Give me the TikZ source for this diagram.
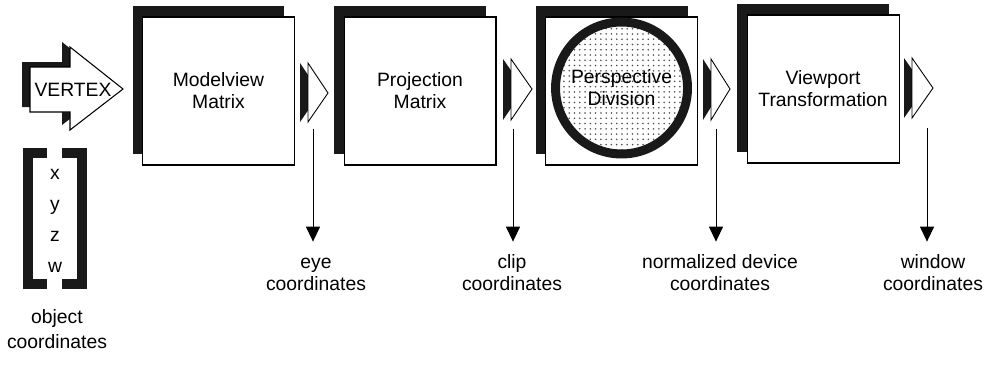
\documentclass[tikz,border=0pt]{standalone}
\usepackage{fontspec}
\setmainfont{Liberation Sans}
\usetikzlibrary{arrows.meta,positioning,shadows,patterns}

\begin{document}
\begin{tikzpicture}[
    x=0.02cm, y=-0.02cm,
    node distance=0.97cm,
    stage/.style={rectangle, draw=black, line width=0.6pt, fill=white, minimum width=3.04cm, minimum height=2.96cm, align=center, inner sep=0pt, font=\fontsize{11}{12.5}\selectfont, general shadow={fill=black!90, shadow xshift=-0.2cm, shadow yshift=0.22cm}},
    vtxarrow/.style={draw=black, line width=0.6pt, fill=white, line join=miter, general shadow={fill=black!90, shadow xshift=-0.16cm, shadow yshift=0.1cm}},
    chev/.style={draw=black, line width=0.5pt, fill=white, line join=miter, general shadow={fill=black!90, shadow xshift=-0.16cm}},
    bracket/.style={draw=black!90, line width=5.7pt, line join=miter},
    coordlabel/.style={align=center, inner sep=0pt, anchor=north, font=\fontsize{11}{12.5}\selectfont},
    downarrow/.style={-{Triangle[width=8pt,length=8.5pt]}, line width=0.5pt, shorten >=6.5pt}
]
\useasboundingbox (0,0) rectangle (994,366);

% input vertex
\draw[vtxarrow] (30,67) -- (70,67) -- (70,47) -- (123,89) -- (70,130) -- (70,112) -- (30,112) -- cycle;
\node[inner sep=0pt, font=\fontsize{11}{12.5}\selectfont] (vtx) at (73,90) {VERTEX};

% object coordinates
\draw[bracket] (47,153) -- (28,153) -- (28,284) -- (47,284);
\draw[bracket] (62,153) -- (82,153) -- (82,284) -- (62,284);
\node[align=center, inner sep=0pt, font=\fontsize{11}{17.5}\selectfont] (xyzw) at (55,221) {x\\y\\z\\w};
\node[coordlabel, font=\fontsize{11}{14.5}\selectfont] (obj) at (57,305) {\strut object\\coordinates};

% stages
\node[stage] (mv) at (218.5,91) {Modelview\\Matrix};
\node[stage, right=of mv] (pm) {Projection\\Matrix};
\node[stage, right=of pm] (pd) {};
\node[stage, right=of pd, yshift=0.04cm] (vp) {Viewport\\Transformation};
\node[circle, draw=black!90, line width=5.1pt, pattern=dots, pattern color=black!70, minimum size=2.64cm, inner sep=0pt, align=center, font=\fontsize{11}{12.5}\selectfont] (pdiv) at ([yshift=0.06cm]pd.center) {Perspective\\Division};

% outputs
\draw[chev] (308,63) -- (328,93) -- (308,122) -- cycle;
\draw[chev] (511,59) -- (532,89) -- (511,120) -- cycle;
\draw[chev] (711,59) -- (730,89) -- (711,120) -- cycle;
\draw[chev] (912,58) -- (933,88) -- (912,118) -- cycle;

\coordinate (eyetop) at (313,129);
\coordinate (cliptop) at (513,129);
\coordinate (ndctop) at (716,129);
\coordinate (wintop) at (927,128);

\node[coordlabel] (eye) at (316,253) {\strut eye\\coordinates};
\node[coordlabel] (clip) at (512,253) {\strut clip\\coordinates};
\node[coordlabel] (ndc) at (720,253) {\strut normalized device\\coordinates};
\node[coordlabel] (win) at (933,253) {\strut window\\coordinates};

\draw[downarrow] (eyetop) -- (eyetop |- eye.north);
\draw[downarrow] (cliptop) -- (cliptop |- clip.north);
\draw[downarrow] (ndctop) -- (ndctop |- ndc.north);
\draw[downarrow] (wintop) -- (wintop |- win.north);

\end{tikzpicture}
\end{document}
